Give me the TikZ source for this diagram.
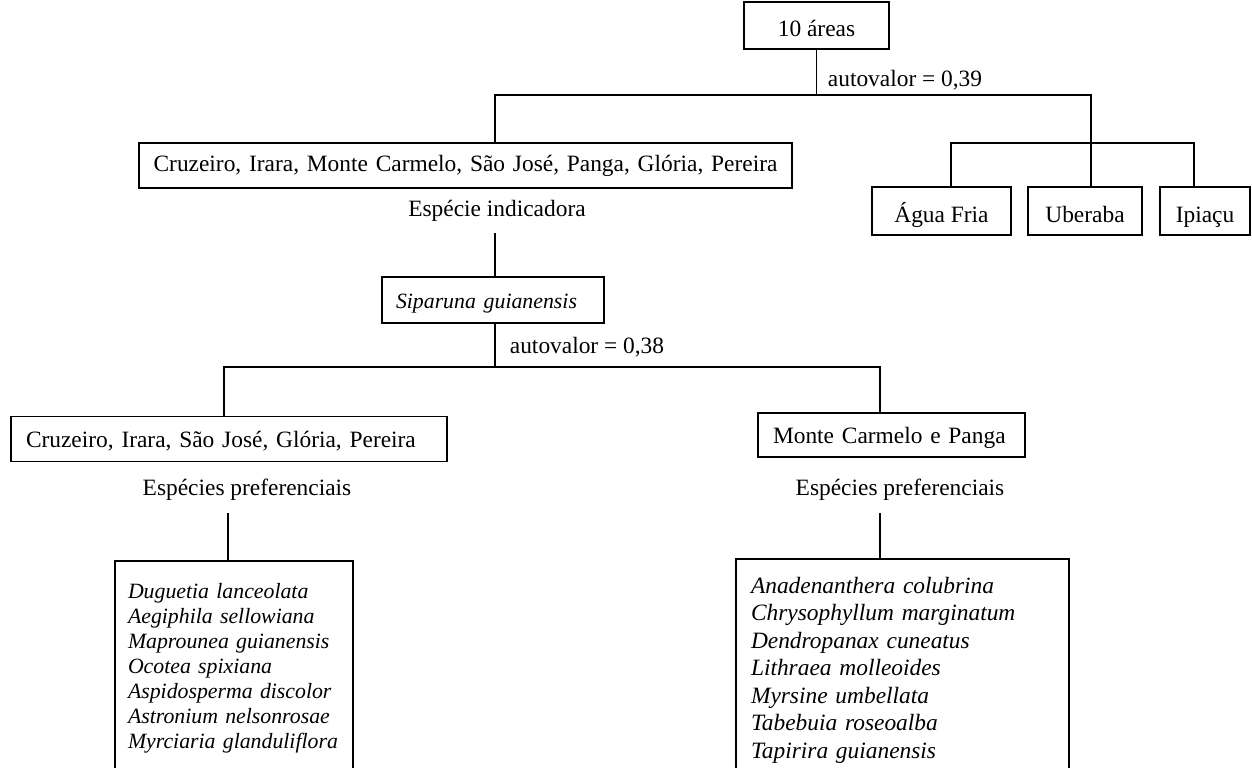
\documentclass[tikz,border=0pt]{standalone}
\usepackage{fontspec}
\setmainfont{Liberation Serif}
\begin{document}
\begin{tikzpicture}[x=0.5pt,y=-0.5pt,line width=0.9pt,
    caixa/.style={draw,rectangle,inner sep=0pt,text height=10pt,text depth=1.5pt,
        font=\fontsize{11.7}{14}\selectfont},
    baixo/.style={text height=11.5pt,text depth=0.5pt},
    caixaesq/.style={caixa,align=left,inner xsep=7.5pt},
    rotulo/.style={inner sep=0pt,font=\fontsize{11.7}{14}\selectfont},
    lista/.style={draw,rectangle,anchor=north,align=left}]
    \useasboundingbox (0,0) rectangle (1252,767);
    \clip (0,0) rectangle (1252,767);

    % Premier niveau
    \node[caixa,baixo,minimum width=72.5pt,minimum height=23.5pt] (top) at (816.5,25.5) {10 áreas};
    \node[rotulo,anchor=west] (av1) at (827,80) {autovalor = 0,39};
    \node[caixaesq,inner xsep=7.3pt,text width=311.9pt,minimum height=22.5pt,
        text height=8.6pt,text depth=2.6pt] (all) at (465.5,165.5)
        {Cruzeiro, Irara, Monte Carmelo, São José, Panga, Glória, Pereira};
    \node[caixa,baixo,minimum width=69.5pt,minimum height=24pt] (af) at (941.5,211) {Água Fria};
    \node[caixa,baixo,minimum width=57pt,minimum height=24pt] (ub) at (1085,211) {Uberaba};
    \node[caixa,baixo,minimum width=45pt,minimum height=24pt] (ip) at (1205,211) {Ipiaçu};

    \coordinate (j1) at (495,95);
    \coordinate (j2) at (1091,95);
    \coordinate (k1) at (951,143);
    \coordinate (k2) at (1194,143);
    \draw (top.south) -- (top.south |- j1);
    \draw (j1 |- all.north) -- (j1) -- (j2) -- (j2 |- ub.north);
    \draw (k1 |- af.north) -- (k1) -- (k2) -- (k2 |- ip.north);

    % Espèce indicatrice
    \node[rotulo] (ind) at (497,211) {Espécie indicadora};
    \node[caixaesq,inner xsep=7pt,text width=97pt,minimum height=23pt] (sip) at (493,300)
        {\fontsize{10.9}{13}\selectfont\itshape Siparuna guianensis};
    \node[rotulo,anchor=west] (av2) at (509,347) {autovalor = 0,38};

    % Deuxième niveau
    \node[caixaesq,text width=203pt,minimum height=22.5pt] (g1) at (229,439)
        {Cruzeiro, Irara, São José, Glória, Pereira};
    \node[caixaesq,text width=118.5pt,minimum height=22pt] (g2) at (891.5,435)
        {Monte Carmelo e Panga};
    \node[rotulo] (pref1) at (247,490) {Espécies preferenciais};
    \node[rotulo] (pref2) at (900,490) {Espécies preferenciais};

    \coordinate (i1) at (495,233);
    \coordinate (m1) at (224,367);
    \coordinate (m2) at (880,367);
    \draw (i1) -- (i1 |- sip.north);
    \draw (i1 |- sip.south) -- (i1 |- m1);
    \draw (m1 |- g1.north) -- (m1) -- (m2) -- (m2 |- g2.north);

    % Listes
    \node[lista,inner xsep=6.5pt,inner ysep=11pt,text width=106pt,
        font=\fontsize{10.9}{12.5}\selectfont\itshape] (l1) at (234,560)
        {Duguetia lanceolata\\ Aegiphila sellowiana\\ Maprounea guianensis\\ Ocotea spixiana\\
         Aspidosperma discolor\\ Astronium nelsonrosae\\ Myrciaria glanduliflora};
    \node[lista,inner xsep=7.5pt,inner ysep=9pt,text width=151.5pt,
        font=\fontsize{11.7}{13.75}\selectfont\itshape] (l2) at (902.5,558)
        {Anadenanthera colubrina\\ Chrysophyllum marginatum\\ Dendropanax cuneatus\\
         Lithraea molleoides\\ Myrsine umbellata\\ Tabebuia roseoalba\\ Tapirira guianensis};

    \coordinate (p1) at (227.7,513);
    \coordinate (p2) at (880,513);
    \draw (p1) -- (p1 |- l1.north);
    \draw (p2) -- (p2 |- l2.north);
\end{tikzpicture}
\end{document}
